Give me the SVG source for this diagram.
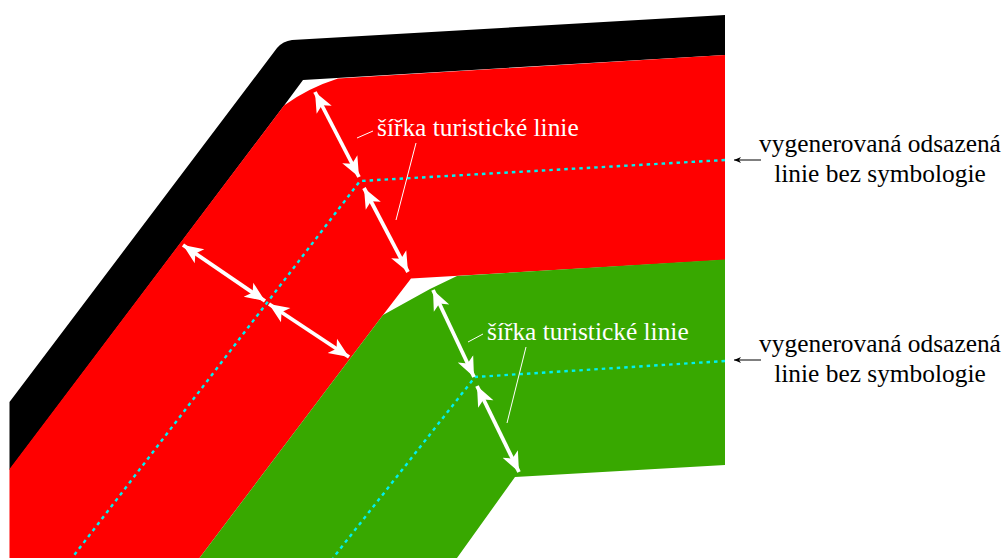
<svg xmlns="http://www.w3.org/2000/svg" width="1006" height="558" viewBox="0 0 1006 558">
<style>
.t{font-family:"Liberation Serif","Times New Roman",serif;font-size:25.4px}
.w{fill:#fff}
.k{fill:#000;text-anchor:middle}
.dim{stroke:#fff;stroke-width:3.8;fill:none;marker-start:url(#hs);marker-end:url(#he)}
.lead{stroke:#fff;stroke-width:1;fill:none}
.cy{stroke:#00f0f0;stroke-width:2.4;stroke-dasharray:3.5 4;fill:none}
.ptr{stroke:#000;stroke-width:1;fill:none;marker-end:url(#bk)}
</style>
<defs>
<marker id="he" markerUnits="userSpaceOnUse" markerWidth="24" markerHeight="24" refX="20" refY="12" orient="auto"><path d="M20 12L0 3.500L5 12L0 20.500Z" fill="#fff"/></marker>
<marker id="hs" markerUnits="userSpaceOnUse" markerWidth="24" markerHeight="24" refX="0" refY="12" orient="auto"><path d="M0 12L20 3.500L15 12L20 20.500Z" fill="#fff"/></marker>
<marker id="bk" markerUnits="userSpaceOnUse" markerWidth="8" markerHeight="8" refX="7" refY="4" orient="auto"><path d="M7 4L0 1L2 4L0 7Z" fill="#000"/></marker>
</defs>
<g id="black-band"><path d="M9.500 402L277 48Q283 41 292 40L725 15V55L303 80L283 107L9.500 470Z" fill="#000"/></g>
<g id="red-band"><path d="M9.500 469L284 105.500Q308 88 338 78.500L725 55V260L411 278.500L383 315L199.500 558H9.500Z" fill="#f00"/></g>
<g id="green-band"><path d="M383 315L430 289L457 276L725 259.500V465L515 477L457 558H199.500Z" fill="#38a800"/></g>
<g id="connectors">
<path class="cy" d="M725 160L360 181L72 558"/>
<path class="cy" d="M725 361L475 377L333 558"/>
<line class="dim" x1="315" y1="92" x2="359" y2="177"/>
<line class="dim" x1="364" y1="188" x2="408" y2="272"/>
<line class="dim" x1="183" y1="245" x2="265" y2="301"/>
<line class="dim" x1="269" y1="304" x2="349" y2="357"/>
<line class="dim" x1="433" y1="290" x2="474" y2="377"/>
<line class="dim" x1="477" y1="386" x2="519" y2="472"/>
<line class="lead" x1="357" y1="138" x2="373" y2="131"/>
<line class="lead" x1="416" y1="143" x2="396" y2="220"/>
<line class="lead" x1="468" y1="342" x2="483" y2="334"/>
<line class="lead" x1="526" y1="347" x2="507" y2="423"/>
<line class="ptr" x1="761" y1="160" x2="734" y2="160"/>
<line class="ptr" x1="761" y1="360" x2="734" y2="360"/>
</g>
<g id="label-width-1"><text class="t w" x="377" y="136">šířka turistické linie</text></g>
<g id="label-width-2"><text class="t w" x="487" y="340">šířka turistické linie</text></g>
<g id="label-offset-1"><text class="t k" x="880" y="152">vygenerovaná odsazená</text><text class="t k" x="880" y="182">linie bez symbologie</text></g>
<g id="label-offset-2"><text class="t k" x="880" y="352">vygenerovaná odsazená</text><text class="t k" x="880" y="382">linie bez symbologie</text></g>
</svg>
